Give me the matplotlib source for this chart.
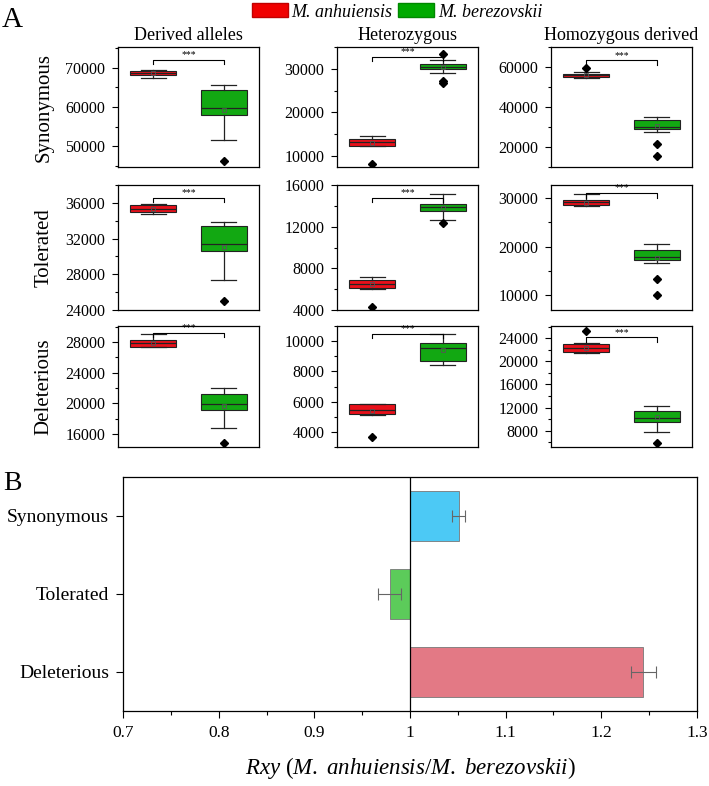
import numpy as np
import matplotlib
matplotlib.use('Agg')
import matplotlib.pyplot as plt
from matplotlib.patches import Patch
from matplotlib.ticker import MultipleLocator, FuncFormatter

plt.rcParams['font.family'] = ['Liberation Serif', 'DejaVu Serif']
plt.rcParams['mathtext.fontset'] = 'custom'
plt.rcParams['mathtext.rm'] = 'Liberation Serif'
plt.rcParams['mathtext.it'] = 'Liberation Serif:italic'

species = ['M. anhuiensis', 'M. berezovskii']
classes = ['Synonymous', 'Tolerated', 'Deleterious']
measures = ['Derived alleles', 'Heterozygous', 'Homozygous derived']

# box stats: (whisker low, Q1, median, Q3, whisker high, mean)
# one tuple per column: derived alleles, heterozygous, homozygous derived
anh_syn = [(67400, 68000, 68700, 69200, 69400, 68650),
           (12200, 12220, 13130, 13980, 14590, 13100),
           (54670, 55000, 56000, 56670, 57500, 55900)]
ber_syn = [(51600, 58010, 59870, 64260, 65530, 59360),
           (29000, 29850, 30530, 31150, 32060, 30400),
           (27670, 28830, 30000, 33330, 35170, 30300)]
anh_tol = [(34750, 34940, 35360, 35810, 35920, 35300),
           (6050, 6070, 6530, 6850, 7180, 6480),
           (28440, 28580, 29120, 29530, 30810, 29100)]
ber_tol = [(27400, 30600, 31400, 33430, 33850, 31100),
           (12640, 13470, 13860, 14190, 15110, 13800),
           (16580, 17250, 17800, 19420, 20500, 17700)]
anh_del = [(27300, 27350, 27870, 28220, 29050, 27850),
           (5130, 5170, 5450, 5820, 5840, 5400),
           (21520, 21580, 22270, 22960, 23130, 22250)]
ber_del = [(16750, 19110, 19940, 21200, 21980, 19590),
           (8420, 8700, 9520, 9850, 10480, 9420),
           (7710, 9520, 10150, 11420, 12290, 10300)]

# outliers
anh_syn_out = [[], [8250], [59330]]
ber_syn_out = [[46370], [33430, 27100, 26720], [21670, 15500]]
anh_tol_out = [[], [4250], []]
ber_tol_out = [[24980], [12380], [13390, 10000]]
anh_del_out = [[], [3650], [25270]]
ber_del_out = [[14790], [], [5920]]

# panel B
rxy = [1.051, 0.979, 1.244]
rxy_err = [0.007, 0.012, 0.013]

# axis settings per row, per column: (ymin, ymax, major, minor)
ylims = [[(44800, 75200, 10000, 5000), (7500, 35000, 10000, 5000), (10000, 70000, 20000, 10000)],
         [(24000, 38000, 4000, 2000), (4000, 16000, 4000, 2000), (7000, 32700, 10000, 5000)],
         [(14300, 30100, 4000, 2000), (3000, 11000, 2000, 1000), (5200, 26100, 4000, 2000)]]
bracket_y = [[71860, 32670, 63330],
             [36570, 14780, 31020],
             [29180, 10500, 24120]]

red = '#E8101A'
green = '#12A812'
bar_colors = ['#4CC9F5', '#5CCB5A', '#E37985']

fig = plt.figure(figsize=(7.09, 7.86), dpi=100)

col_left = [118, 337, 551]
col_w = 141
row_top = [47, 185, 326]
row_bot = [167, 310, 447]
W, H = 709, 786

rows_a = [anh_syn, anh_tol, anh_del]
rows_b = [ber_syn, ber_tol, ber_del]
outs_a = [anh_syn_out, anh_tol_out, anh_del_out]
outs_b = [ber_syn_out, ber_tol_out, ber_del_out]


def stats(t, fl):
    return dict(whislo=t[0], q1=t[1], med=t[2], q3=t[3], whishi=t[4], mean=t[5], fliers=fl)


for r in range(3):
    for c in range(3):
        ax = fig.add_axes([col_left[c] / W, 1 - row_bot[r] / H, col_w / W, (row_bot[r] - row_top[r]) / H])
        st = [stats(rows_a[r][c], outs_a[r][c]), stats(rows_b[r][c], outs_b[r][c])]
        bp = ax.bxp(st, positions=[1, 2], widths=0.65, capwidths=0.35, patch_artist=True, showmeans=True,
                    boxprops=dict(linewidth=0.8, edgecolor='#222222'),
                    medianprops=dict(color='#222222', linewidth=0.9),
                    whiskerprops=dict(color='#222222', linewidth=0.9),
                    capprops=dict(color='#222222', linewidth=0.9),
                    flierprops=dict(marker='D', markerfacecolor='black', markeredgecolor='black', markersize=4),
                    meanprops=dict(marker='s', markerfacecolor='none', markeredgecolor='#555555',
                                   markersize=3.5, markeredgewidth=0.6))
        for patch, col in zip(bp['boxes'], [red, green]):
            patch.set_facecolor(col)
        lo, hi, maj, mnr = ylims[r][c]
        ax.set_ylim(lo, hi)
        ax.set_xlim(0.5, 2.5)
        ax.yaxis.set_major_locator(MultipleLocator(maj))
        ax.yaxis.set_minor_locator(MultipleLocator(mnr))
        ax.set_xticks([])
        ax.tick_params(axis='y', which='major', direction='out', length=4, width=0.8, labelsize=11.5, pad=5)
        ax.tick_params(axis='y', which='minor', direction='out', length=2.5, width=0.8)
        for s in ax.spines.values():
            s.set_linewidth(0.9)
        # significance bracket
        by = bracket_y[r][c]
        d = 0.035 * (hi - lo)
        ax.plot([1, 1, 2, 2], [by - d, by, by, by - d], color='black', lw=0.8)
        ax.text(1.5, by + 0.005 * (hi - lo), '***', ha='center', va='bottom', fontsize=7)
        if r == 0:
            ax.set_title(measures[c], fontsize=13, pad=5)
        if c == 0:
            fig.text(44 / W, 1 - (row_top[r] + row_bot[r]) / 2 / H, classes[r], rotation=90,
                     ha='center', va='center', fontsize=15)

fig.text(0.003, 1 - 20 / H, 'A', fontsize=21, va='center', ha='left')
fig.text(0.005, 1 - 484 / H, 'B', fontsize=20, va='center', ha='left')

handles = [Patch(facecolor='#F00000', edgecolor='#C00000'), Patch(facecolor='#00AA00', edgecolor='#008800')]
leg = fig.legend(handles, species, loc='center', bbox_to_anchor=(0.56, 1 - 12 / H), ncol=2, frameon=False,
                 prop=dict(style='italic', size=13), handlelength=2.0, handleheight=0.8,
                 handletextpad=0.2, columnspacing=0.3, borderpad=0)

# panel B
axb = fig.add_axes([123 / W, 1 - 711 / H, (697 - 123) / W, (711 - 477) / H])
ypos = np.arange(len(classes))
axb.barh(ypos, np.array(rxy) - 1, left=1, height=0.65, color=bar_colors, edgecolor='#777777', linewidth=0.6)
axb.errorbar(rxy, ypos, xerr=rxy_err, fmt='none', ecolor='#666666', elinewidth=0.8, capsize=4, capthick=0.8)
axb.axvline(1, color='black', lw=0.9)
axb.set_xlim(0.7, 1.3)
axb.set_ylim(2.5, -0.5)
axb.set_yticks(ypos)
axb.set_yticklabels(classes, fontsize=14)
axb.xaxis.set_major_locator(MultipleLocator(0.1))
axb.xaxis.set_minor_locator(MultipleLocator(0.05))
axb.xaxis.set_major_formatter(FuncFormatter(lambda v, p: '%g' % round(v, 2)))
axb.tick_params(axis='both', which='major', direction='out', length=5, width=0.8, pad=5)
axb.tick_params(axis='x', which='major', labelsize=12.5)
axb.tick_params(axis='x', which='minor', direction='out', length=3, width=0.8)
for s in axb.spines.values():
    s.set_linewidth(0.9)
axb.set_xlabel(r'$Rxy$ ($M.\ anhuiensis$/$M.\ berezovskii$)', fontsize=16.5, labelpad=10)

fig.savefig('out.png', dpi=100)
